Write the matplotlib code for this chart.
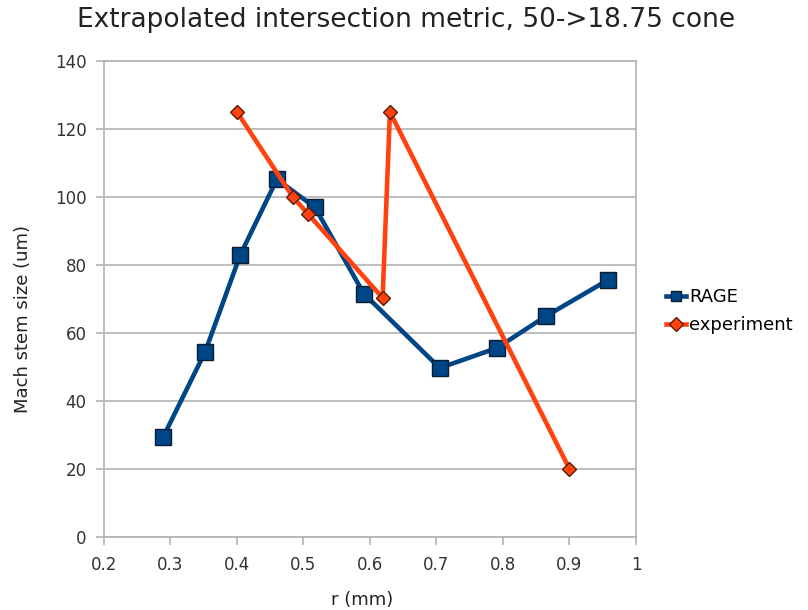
import matplotlib.pyplot as plt

plt.rcParams['font.family'] = ['DejaVu Sans']

rage_r = [0.289, 0.352, 0.405, 0.460, 0.517, 0.591, 0.705, 0.791, 0.865, 0.958]
rage_size = [29.4, 54.4, 83.0, 105.2, 97.0, 71.5, 49.7, 55.6, 65.0, 75.6]
exp_r = [0.400, 0.484, 0.507, 0.619, 0.630, 0.900]
exp_size = [125.0, 100.0, 95.0, 70.3, 125.0, 20.0]

fig = plt.figure(figsize=(8.08, 6.10), dpi=100)
ax = fig.add_axes([0.1287, 0.1197, 0.6584, 0.7803])

ax.plot(rage_r, rage_size, color='#004586', lw=3.3, marker='s', ms=12,
        mfc='#004586', mec='#0a1e33', mew=1.0, label='RAGE', zorder=3)
ax.plot(exp_r, exp_size, color='#ff420e', lw=3.3, marker='D', ms=7.5,
        mfc='#ff420e', mec='#5a1a05', mew=1.0, label='experiment', zorder=4)

ax.set_xlim(0.2, 1.0)
ax.set_ylim(0, 140)
ax.set_xticks([0.2, 0.3, 0.4, 0.5, 0.6, 0.7, 0.8, 0.9, 1.0])
ax.set_xticklabels(['0.2', '0.3', '0.4', '0.5', '0.6', '0.7', '0.8', '0.9', '1'])
ax.set_yticks(range(0, 141, 20))
ax.grid(axis='y', color='#b3b3b3', lw=1.2)
ax.set_axisbelow(True)
for s in ax.spines.values():
    s.set_color('#b3b3b3')
    s.set_linewidth(1.2)
ax.tick_params(colors='#b3b3b3', length=5.5, width=1.2, labelcolor='#333333',
               labelsize=12)
ax.tick_params(axis='x', pad=8)
ax.tick_params(axis='y', pad=7)

ax.set_xlabel('r (mm)', fontsize=13, color='#222222')
ax.xaxis.set_label_coords(0.485, -0.113)
ax.set_ylabel('Mach stem size (um)', fontsize=13, color='#222222')
ax.yaxis.set_label_coords(-0.135, 0.458)
fig.text(0.503, 0.967, 'Extrapolated intersection metric, 50->18.75 cone',
         fontsize=19, color='#222222', ha='center', va='center')

leg = ax.legend(loc='center left', bbox_to_anchor=(1.042, 0.475), frameon=False,
                fontsize=13, handlelength=1.15, handletextpad=0.15,
                labelspacing=0.55, borderaxespad=0)
for h in leg.legend_handles:
    h.set_markersize(7)

fig.savefig('out.png', dpi=100)
